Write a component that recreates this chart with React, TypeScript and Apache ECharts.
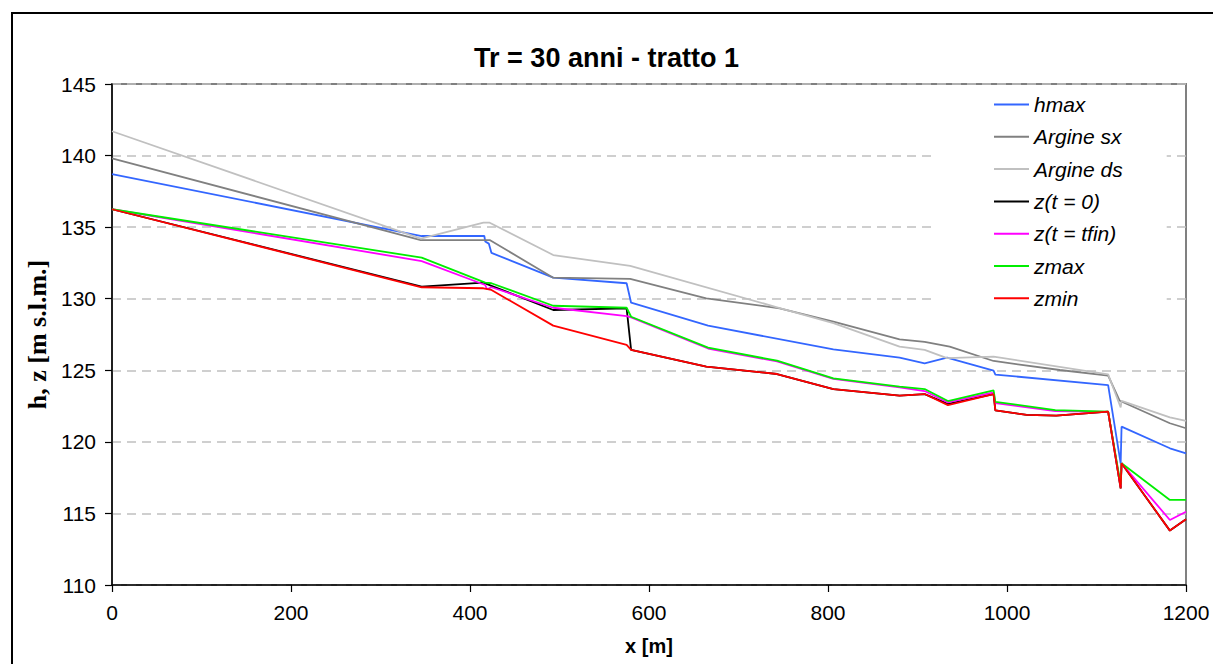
import React, { useEffect, useRef } from "react";
import * as echarts from "echarts";

const titleText = "Tr = 30 anni - tratto 1";
const xTicks = [0, 200, 400, 600, 800, 1000, 1200];
const yTicks = [110, 115, 120, 125, 130, 135, 140, 145];

const xHmax = [0, 346, 416, 417, 421, 424, 493, 575, 580, 666, 806, 880, 908, 933, 985, 987, 1113, 1127, 1128, 1182, 1200];
const hmax = [138.7, 134.38, 134.38, 134.0, 133.85, 133.2, 131.47, 131.08, 129.72, 128.12, 126.46, 125.88, 125.49, 125.88, 124.97, 124.7, 123.97, 118.5, 121.06, 119.55, 119.2];

const xSx = [0, 345, 422, 493, 579, 664, 746, 806, 880, 908, 936, 985, 1059, 1113, 1126, 1182, 1200];
const argineSx = [139.8, 134.1, 134.1, 131.47, 131.38, 130.03, 129.33, 128.4, 127.16, 126.98, 126.65, 125.65, 125.02, 124.62, 122.87, 121.3, 120.95];

const xDs = [0, 345, 415, 422, 493, 579, 746, 806, 880, 908, 933, 985, 1113, 1127, 1128, 1182, 1200];
const argineDs = [141.7, 134.2, 135.31, 135.31, 133.05, 132.29, 129.35, 128.3, 126.65, 126.42, 125.85, 125.95, 124.72, 122.4, 122.87, 121.71, 121.46];

const xZ0 = [0, 346, 415, 424, 493, 575, 580, 664, 743, 806, 880, 908, 934, 985, 987, 1022, 1055, 1113, 1127, 1128, 1182, 1200];
const z0 = [136.25, 130.85, 131.12, 130.9, 129.21, 129.33, 126.42, 125.25, 124.74, 123.69, 123.23, 123.34, 122.65, 123.34, 122.2, 121.88, 121.83, 122.11, 116.75, 118.5, 113.8, 114.6];

const xZfin = [0, 346, 417, 419, 424, 493, 575, 580, 666, 743, 806, 880, 908, 934, 985, 987, 1054, 1113, 1127, 1128, 1182, 1200];
const zFin = [136.25, 132.63, 130.96, 130.66, 130.8, 129.37, 128.79, 128.7, 126.52, 125.62, 124.4, 123.8, 123.55, 122.75, 123.45, 122.7, 122.15, 122.1, 116.9, 118.5, 114.54, 115.12];

const xZmax = [0, 346, 417, 424, 493, 575, 580, 666, 743, 806, 880, 908, 934, 985, 987, 1054, 1113, 1127, 1128, 1182, 1200];
const zMax = [136.25, 132.87, 131.12, 131.08, 129.51, 129.37, 128.74, 126.58, 125.67, 124.44, 123.86, 123.69, 122.85, 123.6, 122.8, 122.22, 122.11, 117.0, 118.5, 115.94, 115.94];

const xZmin = [0, 346, 415, 424, 493, 575, 580, 664, 743, 806, 880, 908, 934, 985, 987, 1022, 1055, 1113, 1127, 1128, 1182, 1200];
const zMin = [136.25, 130.8, 130.73, 130.61, 128.12, 126.77, 126.42, 125.25, 124.74, 123.69, 123.23, 123.34, 122.57, 123.34, 122.2, 121.88, 121.83, 122.11, 116.75, 118.5, 113.8, 114.6];

const seriesNames = ["hmax", "Argine sx", "Argine ds", "z(t = 0)", "z(t = tfin)", "zmax", "zmin"];
const seriesColors = ["#3366ff", "#808080", "#c0c0c0", "#000000", "#ff00ff", "#00ee00", "#ff0000"];
const seriesX = [xHmax, xSx, xDs, xZ0, xZfin, xZmax, xZmin];
const seriesY = [hmax, argineSx, argineDs, z0, zFin, zMax, zMin];

const SANS = "'Liberation Sans', Arial, sans-serif";
const SERIF = "'Liberation Serif', 'Times New Roman', serif";

export default function App() {
  const ref = useRef<HTMLDivElement>(null);
  useEffect(() => {
    if (!ref.current) return;
    const chart = echarts.init(ref.current, undefined, { renderer: "svg" });
    chart.setOption({
      animation: false,
      backgroundColor: "#ffffff",
      title: {
        text: titleText,
        left: "center",
        top: 44,
        padding: 0,
        textStyle: { fontFamily: SANS, fontWeight: "bold", fontSize: 27, color: "#000" },
      },
      graphic: [
        {
          type: "rect",
          shape: { x: 12, y: 13, width: 1212, height: 662 },
          style: { fill: "none", stroke: "#000", lineWidth: 2 },
          silent: true,
          z: 100,
        },
      ],
      legend: {
        orient: "vertical",
        left: 935,
        top: 88,
        padding: [6, 44, 8, 59],
        backgroundColor: "#ffffff",
        icon: "rect",
        itemWidth: 35,
        itemHeight: 2,
        itemGap: 11.3,
        data: seriesNames,
        textStyle: { fontFamily: SANS, fontStyle: "italic", fontSize: 21, color: "#000", lineHeight: 21 },
        z: 5,
      },
      grid: {
        left: 112,
        top: 84,
        right: 27,
        bottom: 79,
        show: true,
        borderColor: "#808080",
        borderWidth: 2,
        backgroundColor: "transparent",
      },
      xAxis: {
        type: "value",
        min: xTicks[0],
        max: xTicks[xTicks.length - 1],
        interval: 200,
        name: "x [m]",
        nameLocation: "middle",
        nameGap: 51,
        nameTextStyle: { fontFamily: SANS, fontWeight: "bold", fontSize: 20, color: "#000" },
        axisLine: { show: true, onZero: false, lineStyle: { color: "#000", width: 1.5 } },
        axisTick: { show: true, inside: false, length: 7, lineStyle: { color: "#000", width: 1.2 } },
        axisLabel: { fontFamily: SANS, fontSize: 21, color: "#000", margin: 17, formatter: (v: number) => String(v) },
        splitLine: { show: false },
      },
      yAxis: {
        type: "value",
        min: yTicks[0],
        max: yTicks[yTicks.length - 1],
        interval: 5,
        name: "h, z [m s.l.m.]",
        nameLocation: "middle",
        nameGap: 62,
        nameRotate: 90,
        nameTextStyle: { fontFamily: SERIF, fontWeight: "bold", fontSize: 26, color: "#000" },
        axisLine: { show: true, onZero: false, lineStyle: { color: "#000", width: 1.5 } },
        axisTick: { show: true, inside: false, length: 7, lineStyle: { color: "#000", width: 1.2 } },
        axisLabel: { fontFamily: SANS, fontSize: 21, color: "#000", margin: 16, formatter: (v: number) => String(v) },
        splitLine: { show: true, lineStyle: { color: "#c0c0c0", width: 1.5, type: [9, 6] } },
      },
      series: seriesNames.map((n, i) => ({
        name: n,
        type: "line",
        symbol: "none",
        data: seriesX[i].map((x, j) => [x, seriesY[i][j]]),
        lineStyle: { color: seriesColors[i], width: 1.8 },
        itemStyle: { color: seriesColors[i] },
        z: 2 + i * 0.01,
      })),
    });
    return () => chart.dispose();
  }, []);
  return <div ref={ref} style={{ position: "fixed", left: 0, top: 0, width: 1213, height: 664 }} />;
}
